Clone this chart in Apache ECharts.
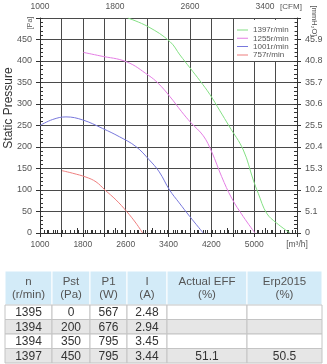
<!DOCTYPE html>
<html><head><meta charset="utf-8">
<script src="https://cdn.jsdelivr.net/npm/echarts@6/dist/echarts.min.js"></script>
<style>html,body{margin:0;padding:0;background:#fff}#c{width:327px;height:364px}</style>
</head><body><div id="c"></div>
<script>
// ---- data ----
const speedNames = ['1397r/min', '1255r/min', '1001r/min', '757r/min'];
const curve1397 = [[2640,500],[3017,480],[3428,445],[3614,414],[3801,384],[3988,354],[4174,322],[4361,284],[4530,249],[4797,193],[4984,123],[5077,92],[5233,46],[5420,23],[5669,0]];
const curve1255 = [[1809,420],[2120,412],[2619,398],[3022,367],[3209,348],[3428,317],[3646,282],[3815,257],[4050,226],[4206,189],[4393,131],[4580,81],[4797,38],[5015,0]];
const curve1001 = [[1000,250],[1237,264],[1485,270],[1797,263],[2171,243],[2481,224],[2792,201],[3041,170],[3228,142],[3420,100],[3601,70],[3800,38],[4049,0]];
const curve757  = [[1411,145],[1610,139],[1859,130],[2046,119],[2214,100],[2419,77],[2619,50],[2792,23],[2917,0]];
const flowLabels = [1000, 1800, 2600, 3400, 4200, 5000];
const cfmLabels = [1000, 1800, 2600, 3400];
const paLabels = [0, 50, 100, 150, 200, 250, 300, 350, 400, 450];
const mmLabels = ['0', '5.1', '10.2', '15.3', '20.4', '25.5', '30.6', '35.7', '40.8', '45.9'];
const tableHeads = [['n','(r/min)'],['Pst','(Pa)'],['P1','(W)'],['I','(A)'],['Actual EFF','(%)'],['Erp2015','(%)']];
const tableRows = [
  ['1395','0','567','2.48','',''],
  ['1394','200','676','2.94','',''],
  ['1394','350','795','3.45','',''],
  ['1397','450','795','3.44','51.1','50.5']
];
// ---- styles / layout ----
const colors = ['#84e084', '#e47ee4', '#7878dc', '#ee7f7f'];
const FONT = 'Liberation Sans, Arial, Helvetica, sans-serif';
const colEdges = [5, 52, 90, 127, 167, 247, 322];
const headTop = 271, headBottom = 305, rowH = 14.5;
const lineIcon = 'path://M0,0h11v0.01h-11z M0,3.5h11v1h-11z M0,7.99h11v0.01h-11z';

const chart = echarts.init(document.getElementById('c'), null, {renderer: 'canvas'});
const axisCol = '#333', gridCol = '#4a4a4a', labCol = '#555';

function baseX(extra) {
  return Object.assign({
    type: 'value', min: 1000, max: 5800, interval: 400,
    axisLine: {show: true, lineStyle: {color: axisCol, width: 1}},
    splitLine: {show: false},
    axisLabel: {show: false},
    axisTick: {show: false},
    minorTick: {show: false}
  }, extra);
}
function baseY(extra) {
  return Object.assign({
    type: 'value', min: 0, max: 500, interval: 50,
    axisLine: {show: true, lineStyle: {color: axisCol, width: 1}},
    splitLine: {show: false},
    axisLabel: {show: false},
    axisTick: {show: false},
    minorTick: {show: false}
  }, extra);
}

const graphics = [];
graphics.push({type: 'text', x: 9, y: 108, rotation: Math.PI / 2,
  style: {text: 'Static Pressure', font: '12px ' + FONT, fill: '#333', textAlign: 'center', textVerticalAlign: 'middle'}});
graphics.push({type: 'text', x: 30, y: 23, rotation: Math.PI / 2,
  style: {text: '[Pa]', font: '7px ' + FONT, fill: labCol, textAlign: 'center', textVerticalAlign: 'middle'}});
graphics.push({type: 'text', x: 314, y: 21, rotation: -Math.PI / 2,
  style: {text: '[mmH\u2082O]', font: '7.5px ' + FONT, fill: labCol, textAlign: 'center', textVerticalAlign: 'middle'}});
graphics.push({type: 'text', x: 291, y: 7,
  style: {text: '[CFM]', font: '8px ' + FONT, fill: labCol, textAlign: 'center', textVerticalAlign: 'middle'}});

// table
for (let c = 0; c < tableHeads.length; c++) {
  const x0 = colEdges[c], x1 = colEdges[c + 1];
  graphics.push({type: 'rect', shape: {x: x0, y: headTop, width: x1 - x0, height: headBottom - headTop},
    style: {fill: '#d3ebf8', stroke: '#ffffff', lineWidth: 1}});
  const cx = (x0 + x1) / 2;
  graphics.push({type: 'text', x: cx, y: 282, style: {text: tableHeads[c][0], font: '11.5px ' + FONT, fill: '#555', textAlign: 'center', textVerticalAlign: 'middle'}});
  graphics.push({type: 'text', x: cx, y: 295, style: {text: tableHeads[c][1], font: '11.5px ' + FONT, fill: '#555', textAlign: 'center', textVerticalAlign: 'middle'}});
}
for (let r = 0; r < tableRows.length; r++) {
  const y0 = headBottom + r * rowH;
  for (let c = 0; c < tableRows[r].length; c++) {
    const x0 = colEdges[c], x1 = colEdges[c + 1];
    graphics.push({type: 'rect', shape: {x: x0, y: y0, width: x1 - x0, height: rowH},
      style: {fill: r % 2 === 1 ? '#e6e6e6' : '#ffffff', stroke: '#c4c4c4', lineWidth: 1}});
    graphics.push({type: 'text', x: (x0 + x1) / 2, y: y0 + rowH / 2 + 0.5,
      style: {text: tableRows[r][c], font: '12px ' + FONT, fill: '#333', textAlign: 'center', textVerticalAlign: 'middle'}});
  }
}

const mkSeries = (name, data, i) => ({
  name, type: 'line', data, xAxisIndex: 0, yAxisIndex: 0,
  smooth: 0.4, symbol: 'none', showSymbol: false, clip: true,
  lineStyle: {color: colors[i], width: 1}, itemStyle: {color: colors[i]}
});

chart.setOption({
  animation: false,
  textStyle: {fontFamily: FONT},
  grid: {left: 40, right: 30, top: 18, bottom: 131, containLabel: false},
  legend: {
    data: speedNames.map(n => ({name: n, icon: lineIcon})),
    orient: 'vertical', left: 234, top: 20,
    backgroundColor: '#fff', padding: [6, 6, 2, 3],
    itemWidth: 11, itemHeight: 8, itemGap: 0.3,
    textStyle: {fontSize: 8, color: '#555', fontFamily: FONT}
  },
  xAxis: [
    baseX({position: 'bottom',
      splitLine: {show: true, lineStyle: {color: gridCol, width: 1}},
      axisTick: {show: true, inside: true, length: 3, lineStyle: {color: axisCol}},
      minorTick: {show: true, splitNumber: 5, length: 3, lineStyle: {color: axisCol}},
      axisLabel: {show: true, fontSize: 8.5, color: labCol, margin: 7, fontFamily: FONT,
        formatter: v => v === 5800 ? '[m\u00b3/h]' : (flowLabels.indexOf(v) >= 0 ? String(v) : '')}
    }),
    baseX({position: 'bottom', axisLine: {show: false},
      axisTick: {show: true, inside: false, length: 4, lineStyle: {color: axisCol}}}),
    baseX({position: 'top', min: 1000, max: 3741,
      axisTick: {show: true, inside: false, length: 5, lineStyle: {color: axisCol}},
      minorTick: {show: true, splitNumber: 5, length: 3, lineStyle: {color: axisCol}},
      axisLabel: {show: true, fontSize: 8.5, color: labCol, margin: 7, fontFamily: FONT,
        formatter: v => cfmLabels.indexOf(v) >= 0 ? String(v) : ''}
    })
  ],
  yAxis: [
    baseY({position: 'left',
      splitLine: {show: true, lineStyle: {color: gridCol, width: 1}},
      axisTick: {show: true, inside: true, length: 3, lineStyle: {color: axisCol}},
      minorTick: {show: true, splitNumber: 5, length: 3, lineStyle: {color: axisCol}},
      axisLabel: {show: true, fontSize: 9, color: labCol, margin: 8, fontFamily: FONT,
        formatter: v => paLabels.indexOf(v) >= 0 ? String(v) : ''}
    }),
    baseY({position: 'left', axisLine: {show: false},
      axisTick: {show: true, inside: false, length: 4, lineStyle: {color: axisCol}}}),
    baseY({position: 'right',
      axisTick: {show: true, inside: true, length: 3, lineStyle: {color: axisCol}},
      minorTick: {show: true, splitNumber: 5, length: 3, lineStyle: {color: axisCol}},
      axisLabel: {show: true, fontSize: 9, color: labCol, margin: 8, fontFamily: FONT,
        formatter: v => { const i = Math.round(v / 50); return (v < 500 && i < mmLabels.length) ? mmLabels[i] : ''; }}
    }),
    baseY({position: 'right', axisLine: {show: false},
      axisTick: {show: true, inside: false, length: 4, lineStyle: {color: axisCol}}})
  ],
  series: [
    mkSeries(speedNames[0], curve1397, 0),
    mkSeries(speedNames[1], curve1255, 1),
    mkSeries(speedNames[2], curve1001, 2),
    mkSeries(speedNames[3], curve757, 3)
  ],
  graphic: graphics
});
</script></body></html>
